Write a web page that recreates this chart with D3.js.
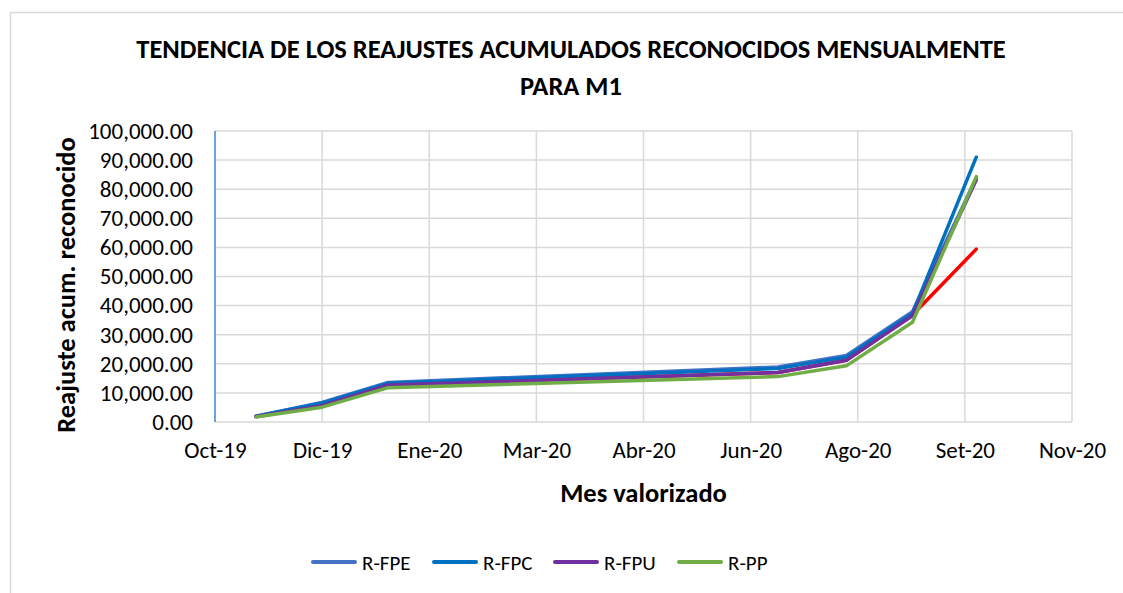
<!DOCTYPE html>
<html>
<head>
<meta charset="utf-8">
<script src="https://cdn.jsdelivr.net/npm/d3@7"></script>
<style>
  body { margin: 0; background: #fff; }
  svg { font-family: Carlito, Calibri, Lato, sans-serif; }
  .grid line { stroke: #d9d9d9; stroke-width: 1.5; }
  .axis path, .axis line { display: none; }
  .axis text { font-size: 23px; fill: #000; font-family: Carlito, Calibri, Lato, sans-serif; }
  .axis-label { font-size: 26.5px; font-weight: bold; }
</style>
</head>
<body>
<div class="chart"></div>
<script>
// Data
const dates = ["2019-11-11", "2019-12-10", "2020-01-08", "2020-06-27", "2020-07-27", "2020-08-25", "2020-09-22"];
const rFPE = [2000, 6700, 13600, 18900, 22900, 37900, 83800];
const rFPC = [2000, 6500, 13300, 18400, 22300, 37300, 91000];
const rFPU = [1900, 5600, 12700, 17000, 21200, 36500, 83200];
const rPP = [1700, 5100, 11800, 15600, 19300, 34300, 84300];
const rRed = [1900, 5600, 12700, 17000, 21200, 36800, 59400];

const tickDates = ["2019-10-24", "2019-12-10", "2020-01-26", "2020-03-13", "2020-04-29", "2020-06-15", "2020-08-01", "2020-09-17", "2020-11-03"];
const tickLabels = ["Oct-19", "Dic-19", "Ene-20", "Mar-20", "Abr-20", "Jun-20", "Ago-20", "Set-20", "Nov-20"];
const yTicks = [0, 10000, 20000, 30000, 40000, 50000, 60000, 70000, 80000, 90000, 100000];

const seriesNames = ["R-FPE", "R-FPC", "R-FPU", "R-PP"];
const seriesColors = ["#4472c4", "#0070c0", "#7030a0", "#70ad47"];

// Margin convention:
const margin = { top: 131, right: 51, bottom: 171, left: 215 };
const width = 1123 - margin.left - margin.right,
    height = 593 - margin.top - margin.bottom;

const parse = d3.timeParse("%Y-%m-%d");

const svgRoot = d3
    .select(".chart")
    .append("svg")
    .attr("width", 1123)
    .attr("height", 593);

// chart border
svgRoot.append("rect")
    .attr("x", 10.5)
    .attr("y", 12.5)
    .attr("width", 1200)
    .attr("height", 700)
    .attr("fill", "none")
    .attr("stroke", "#d9d9d9")
    .attr("stroke-width", 1.5);

const svg = svgRoot
    .append("g")
    .attr("transform", "translate(" + margin.left + "," + margin.top + ")");

const xScale = d3
    .scaleTime()
    .domain([parse(tickDates[0]), parse(tickDates[tickDates.length - 1])])
    .range([0, width]);
const yScale = d3
    .scaleLinear()
    .domain([0, 100000])
    .range([height, 0]);

// gridlines
svg.append("g")
    .attr("class", "grid")
    .selectAll("line.h")
    .data(yTicks)
    .enter()
    .append("line")
    .attr("x1", 0)
    .attr("x2", width)
    .attr("y1", (d) => yScale(d))
    .attr("y2", (d) => yScale(d));

svg.append("g")
    .attr("class", "grid")
    .selectAll("line.v")
    .data(tickDates)
    .enter()
    .append("line")
    .attr("x1", (d) => xScale(parse(d)))
    .attr("x2", (d) => xScale(parse(d)))
    .attr("y1", 0)
    .attr("y2", height);

// y axis line (blue)
svg.append("line")
    .attr("x1", 0).attr("x2", 0)
    .attr("y1", 0).attr("y2", height)
    .attr("stroke", "#4a8fd4")
    .attr("stroke-width", 1.5);

// Draw the axes
const yAxis = d3.axisLeft(yScale)
    .tickValues(yTicks)
    .tickSize(0)
    .tickPadding(22)
    .tickFormat(d3.format(",.2f"));
svg.append("g").attr("class", "axis y-axis").call(yAxis);

const xAxis = d3.axisBottom(xScale)
    .tickValues(tickDates.map(parse))
    .tickSize(0)
    .tickPadding(20)
    .tickFormat((d, i) => tickLabels[i]);
svg.append("g")
    .attr("class", "axis x-axis")
    .attr("transform", `translate(0, ${height})`)
    .call(xAxis);

// Draw the lines
const line = d3.line()
    .x((d) => xScale(d.date))
    .y((d) => yScale(d.value));

const toPoints = (vals) => vals.map((v, i) => ({ date: parse(dates[i]), value: v }));

const allSeries = [
    { values: rRed, color: "#ff0000" },
    { values: rFPE, color: seriesColors[0] },
    { values: rFPC, color: seriesColors[1] },
    { values: rFPU, color: seriesColors[2] },
    { values: rPP, color: seriesColors[3] }
];

svg.selectAll("path.series")
    .data(allSeries)
    .enter()
    .append("path")
    .attr("class", "series")
    .attr("d", (d) => line(toPoints(d.values)))
    .attr("fill", "none")
    .attr("stroke", (d) => d.color)
    .attr("stroke-width", 3.5)
    .attr("stroke-linecap", "round")
    .attr("stroke-linejoin", "round");

// Titles
const title = svgRoot.append("text")
    .attr("x", 571)
    .attr("text-anchor", "middle")
    .style("font-size", "26.5px")
    .style("font-weight", "bold");
title.append("tspan").attr("x", 571).attr("y", 58)
    .text("TENDENCIA DE LOS REAJUSTES ACUMULADOS RECONOCIDOS MENSUALMENTE");
title.append("tspan").attr("x", 571).attr("y", 95)
    .text("PARA M1");

svg.append("text")
    .attr("class", "axis-label")
    .attr("x", width / 2)
    .attr("y", height + 80)
    .attr("text-anchor", "middle")
    .text("Mes valorizado");

svgRoot.append("text")
    .attr("class", "axis-label")
    .attr("transform", "translate(75," + 285 + ") rotate(-90)")
    .attr("text-anchor", "middle")
    .text("Reajuste acum. reconocido");

// Legend
const legendX = [311, 432, 553, 677];
const legend = svgRoot.selectAll("g.legend")
    .data(seriesNames)
    .enter()
    .append("g")
    .attr("class", "legend")
    .attr("transform", (d, i) => `translate(${legendX[i]}, 562)`);

legend.append("line")
    .attr("x1", 2).attr("x2", 44)
    .attr("y1", 0).attr("y2", 0)
    .attr("stroke", (d, i) => seriesColors[i])
    .attr("stroke-width", 4)
    .attr("stroke-linecap", "round");

legend.append("text")
    .attr("x", 51)
    .attr("y", 7.5)
    .style("font-size", "21px")
    .text((d) => d);
</script>
</body>
</html>
